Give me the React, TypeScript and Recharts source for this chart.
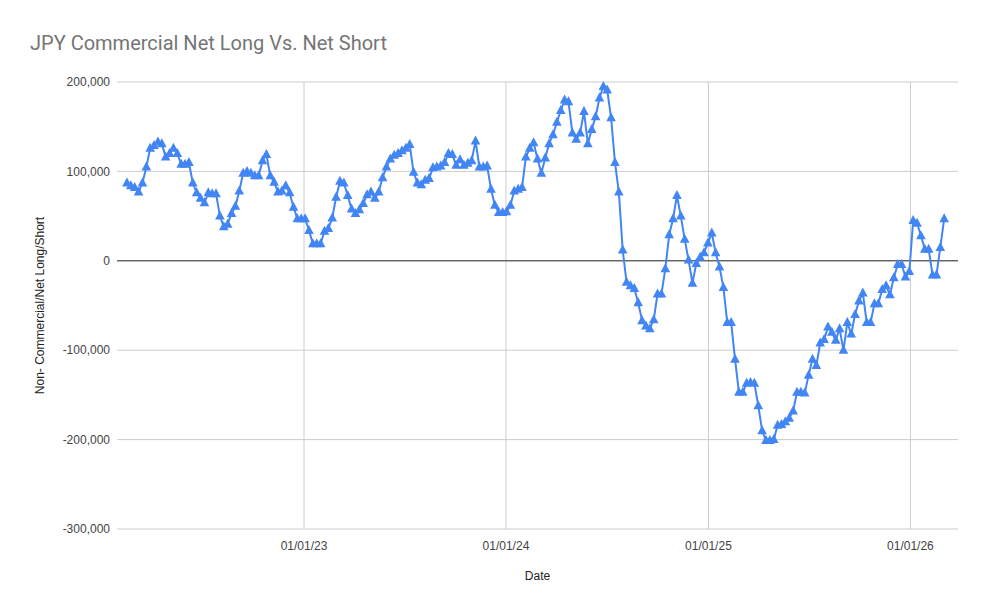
import { CartesianGrid, Label, Line, LineChart, ReferenceLine, XAxis, YAxis } from "recharts";

const DAY = 86400000;
// weekly COT report dates, first one shown
const firstReportDate = Date.UTC(2022, 1, 15);

// non-commercial net long/short, one value per weekly report
const netPositions = [
  87000, 84000, 82000, 77000, 87000, 105000, 126000, 129000, 133000, 131000,
  116000, 120000, 126000, 120000, 108000, 108000, 110000, 87000, 76000, 70000,
  65000, 76000, 75000, 75000, 50000, 38000, 41000, 53000, 61000, 78000,
  98000, 100000, 98000, 95000, 95000, 112000, 119000, 95000, 88000, 77000,
  78000, 84000, 76000, 60000, 47000, 47000, 47000, 34000, 19000, 19000,
  19000, 33000, 36000, 48000, 71000, 89000, 87000, 73000, 58000, 53000,
  57000, 64000, 74000, 77000, 70000, 77000, 93000, 105000, 114000, 118000,
  120000, 123000, 126000, 130000, 99000, 87000, 85000, 90000, 92000, 104000,
  105000, 106000, 110000, 120000, 119000, 107000, 113000, 107000, 109000, 112000,
  134000, 105000, 105000, 106000, 80000, 62000, 54000, 54000, 55000, 62000,
  78000, 80000, 82000, 116000, 126000, 132000, 114000, 98000, 115000, 131000,
  141000, 155000, 168000, 180000, 178000, 143000, 136000, 143000, 167000, 131000,
  147000, 161000, 182000, 195000, 191000, 160000, 110000, 77000, 12000, -24000,
  -28000, -31000, -47000, -67000, -73000, -76000, -66000, -37000, -37000, -9000,
  29000, 47000, 73000, 50000, 24000, 1000, -25000, -3000, 4000, 9000,
  20000, 31000, 9000, -7000, -30000, -69000, -69000, -110000, -147000, -147000,
  -137000, -136000, -137000, -162000, -190000, -201000, -201000, -200000, -184000, -183000,
  -180000, -176000, -168000, -147000, -147000, -148000, -128000, -110000, -117000, -92000,
  -88000, -74000, -80000, -89000, -76000, -100000, -69000, -82000, -60000, -45000,
  -36000, -69000, -69000, -48000, -48000, -32000, -28000, -38000, -19000, -4000,
  -4000, -18000, -12000, 45000, 42000, 28000, 13000, 13000, -16000, -16000,
  15000, 47000,
];

const yTicks = [-300000, -200000, -100000, 0, 100000, 200000];
const xTickDates = ["2023-01-01", "2024-01-01", "2025-01-01", "2026-01-01"];
const xDomain = ["2022-01-28", "2026-03-28"];

const BLUE = "#4285f4";
const FONT = "Arial, 'Liberation Sans', sans-serif";
const TITLE_FONT = "Roboto, Arial, sans-serif";

const rows = netPositions.map((net, i) => ({ date: firstReportDate + i * 7 * DAY, net }));
const xTicks = xTickDates.map((d) => Date.parse(d));

function formatDate(value: number) {
  const d = new Date(value);
  const mm = String(d.getUTCMonth() + 1).padStart(2, "0");
  const dd = String(d.getUTCDate()).padStart(2, "0");
  const yy = String(d.getUTCFullYear()).slice(-2);
  return `${mm}/${dd}/${yy}`;
}

function TriangleDot(props: any) {
  const { cx, cy, index } = props;
  if (cx == null || cy == null) return null;
  return (
    <polygon
      key={`tri-${index}`}
      points={`${cx},${cy - 5.5} ${cx - 4.8},${cy + 3.5} ${cx + 4.8},${cy + 3.5}`}
      fill={BLUE}
    />
  );
}

export default function App() {
  return (
    <div style={{ position: "absolute", left: 0, top: 0, width: 988, height: 612, background: "#fff" }}>
      <div
        style={{
          position: "absolute",
          left: 30,
          top: 31,
          fontFamily: TITLE_FONT,
          fontSize: 20,
          color: "#757575",
          whiteSpace: "nowrap",
        }}
      >
        JPY Commercial Net Long Vs. Net Short
      </div>
      <LineChart width={988} height={612} data={rows} margin={{ top: 82, right: 30, left: 0, bottom: 23 }}>
        <CartesianGrid stroke="#cccccc" vertical={false} />
        {xTicks.map((t) => (
          <ReferenceLine key={t} x={t} stroke="#cccccc" strokeWidth={1} />
        ))}
        <XAxis
          type="number"
          dataKey="date"
          domain={xDomain.map((d) => Date.parse(d))}
          ticks={xTicks}
          tickFormatter={formatDate}
          axisLine={false}
          tickLine={false}
          tickSize={8}
          tickMargin={4}
          height={60}
          tick={{ fill: "#444", fontSize: 12, fontFamily: FONT }}
        >
          <Label value="Date" position="insideBottom" offset={9} style={{ fill: "#222", fontSize: 12, fontFamily: FONT }} />
        </XAxis>
        <YAxis
          domain={[-300000, 200000]}
          ticks={yTicks}
          tickFormatter={(v) => Number(v).toLocaleString("en-US")}
          axisLine={false}
          tickLine={false}
          tickSize={7}
          tickMargin={0}
          width={117}
          tick={{ fill: "#444", fontSize: 12, fontFamily: FONT }}
        >
          <Label
            value="Non- Commercial/Net Long/Short"
            angle={-90}
            position="insideLeft"
            offset={40}
            style={{ textAnchor: "middle", fill: "#222", fontSize: 12, fontFamily: FONT }}
          />
        </YAxis>
        <ReferenceLine y={0} stroke="#333" strokeWidth={1} />
        <Line
          type="linear"
          dataKey="net"
          stroke={BLUE}
          strokeWidth={2}
          dot={TriangleDot}
          activeDot={false}
          isAnimationActive={false}
        />
      </LineChart>
    </div>
  );
}
